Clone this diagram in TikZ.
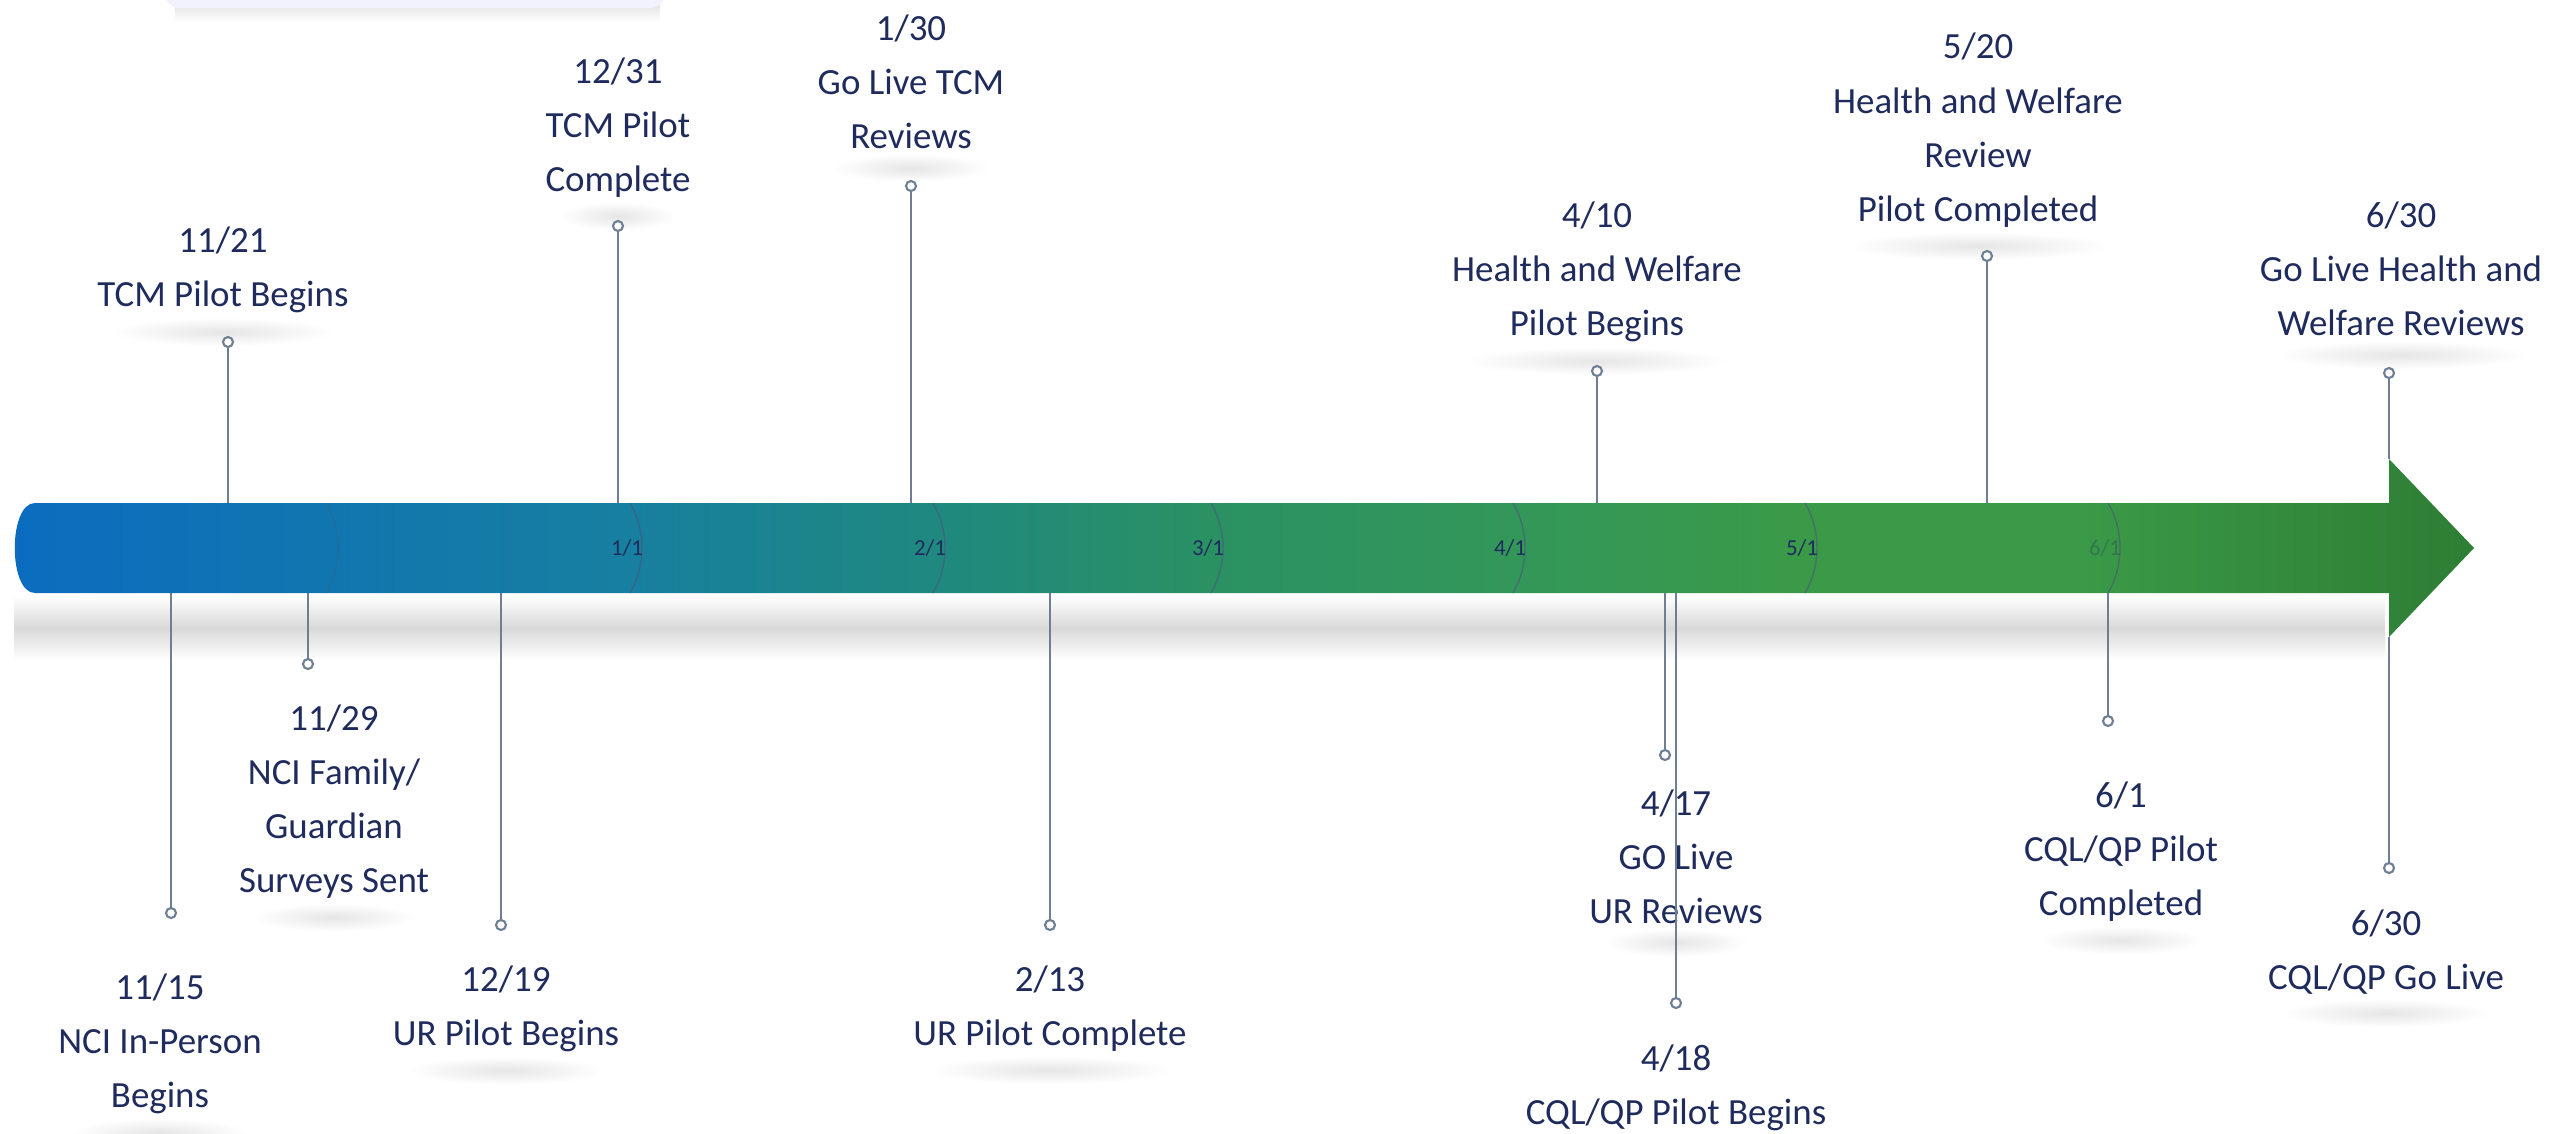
\documentclass[tikz,border=0pt]{standalone}
\usepackage{fontspec}
\setmainfont{Carlito}
\usetikzlibrary{positioning,backgrounds}
\definecolor{navyT}{HTML}{1F2B5C}
\definecolor{leadG}{HTML}{6E7F94}
\definecolor{bandA}{HTML}{0B6CC0}
\definecolor{bandB}{HTML}{177FA0}
\definecolor{bandC}{HTML}{1F8880}
\definecolor{bandD}{HTML}{2A9163}
\definecolor{bandE}{HTML}{33975A}
\definecolor{bandF}{HTML}{3A9A48}
\definecolor{bandG}{HTML}{2E7D34}
\pgfdeclarehorizontalshading{bandshade}{100bp}{%
  color(0bp)=(bandA); color(25bp)=(bandA); color(37.5bp)=(bandB);
  color(43.6bp)=(bandC); color(49.3bp)=(bandD); color(55.4bp)=(bandE);
  color(61.3bp)=(bandF); color(67bp)=(bandF); color(75bp)=(bandG); color(100bp)=(bandG)}
\tikzset{
  evt/.style={align=center, font=\fontsize{10.5}{15.4}\selectfont, text=navyT, inner sep=0pt},
  lead/.style={draw=leadG, line width=0.6pt},
  pinmark/.style={circle, draw=leadG, fill=white, line width=0.6pt, minimum size=1mm, inner sep=0pt},
  month/.style={font=\fontsize{6.5}{7}\selectfont, text=navyT, inner sep=0pt},
  monthline/.style={draw=navyT!80, line width=0.4pt, opacity=0.6},
  smudge/.style={inner color=gray!20, outer color=white},
}

\begin{document}
\begin{tikzpicture}[x=0.1mm, y=-0.1mm, node distance=2.2mm]
  \useasboundingbox (0,0) rectangle (2552,1133);
  \shade[top color=gray!22, bottom color=white] (175,4) rectangle (660,22);
  \fill[blue!5, rounded corners=4pt] (165,-40) rectangle (665,8);
  \shade[top color=white, bottom color=white, middle color=gray!30] (14,596) rectangle (2385,660);
  \shade[shading=bandshade] (35,503) -- (2389,503) -- (2389,459) -- (2474,548) -- (2389,637)
    -- (2389,593) -- (35,593) .. controls (8,593) and (8,503) .. (35,503) -- cycle;
  \coordinate (top) at (0,503);
  \coordinate (bot) at (0,593);
  \coordinate (headtop) at (2389,459);
  \coordinate (headbot) at (2389,637);

  \draw[monthline, opacity=0.3] (326,503) .. controls (342,530) and (342,566) .. (326,593);
  \foreach \mx/\mt/\mo [count=\i] in {630/{1/1}/1, 933/{2/1}/1, 1211/{3/1}/1, 1513/{4/1}/1, 1805/{5/1}/1, 2108/{6/1}/0.3}{
    \draw[monthline] (\mx,503) .. controls (\mx+16,530) and (\mx+16,566) .. (\mx,593);
    \node[month, text opacity=\mo] (m\i) at (\mx-3,548) {\mt};
  }

  \node[pinmark] (p1) at (228,342) {};
  \node[pinmark] (p2) at (618,226) {};
  \node[pinmark] (p3) at (911,186) {};
  \node[pinmark] (p4) at (1597,371) {};
  \node[pinmark] (p5) at (1987,256) {};
  \node[pinmark] (p6) at (2389,373) {};
  \node[pinmark] (p7) at (171,913) {};
  \node[pinmark] (p8) at (308,664) {};
  \node[pinmark] (p9) at (501,925) {};
  \node[pinmark] (p10) at (1050,925) {};
  \node[pinmark] (p11) at (1665,755) {};
  \node[pinmark] (p12) at (1676,1003) {};
  \node[pinmark] (p13) at (2108,721) {};
  \node[pinmark] (p14) at (2389,868) {};

  \node[evt, above=of p1, xshift=-0.5mm] (l1) {11/21\\TCM Pilot Begins};
  \node[evt, above=of p2] (l2) {12/31\\TCM Pilot\\Complete};
  \node[evt, above=3mm of p3] (l3) {1/30\\Go Live TCM\\Reviews};
  \node[evt, above=of p4] (l4) {4/10\\Health and Welfare\\Pilot Begins};
  \node[evt, above=of p5, xshift=-0.9mm] (l5) {5/20\\Health and Welfare\\Review\\Pilot Completed};
  \node[evt, above=3mm of p6, xshift=1.2mm] (l6) {6/30\\Go Live Health and\\Welfare Reviews};
  \node[evt, below=5.4mm of p7, xshift=-1.1mm] (l7) {11/15\\NCI In-Person\\Begins};
  \node[evt, below=3.4mm of p8, xshift=2.6mm] (l8) {11/29\\NCI Family/\\Guardian\\Surveys Sent};
  \node[evt, below=3.4mm of p9, xshift=0.5mm] (l9) {12/19\\UR Pilot Begins};
  \node[evt, below=3.4mm of p10] (l10) {2/13\\UR Pilot Complete};
  \node[evt, below=2.8mm of p11, xshift=1.1mm] (l11) {4/17\\GO Live\\UR Reviews};
  \node[evt, below=3.5mm of p12] (l12) {4/18\\CQL/QP Pilot Begins};
  \node[evt, below=5.4mm of p13, xshift=1.3mm] (l13) {6/1\\CQL/QP Pilot\\Completed};
  \node[evt, below=3.5mm of p14, xshift=-0.3mm] (l14) {6/30\\CQL/QP Go Live};

  \begin{scope}[on background layer]
    \foreach \i in {1,...,14}
      \shade[smudge] ([shift={(15,4)}]l\i.south west) rectangle ([shift={(-15,32)}]l\i.south east);
  \end{scope}

  \draw[lead] (p1.south) -- (p1.south |- top);
  \draw[lead] (p2.south) -- (p2.south |- top);
  \draw[lead] (p3.south) -- (p3.south |- top);
  \draw[lead] (p4.south) -- (p4.south |- top);
  \draw[lead] (p5.south) -- (p5.south |- top);
  \draw[lead] (p6.south) -- (headtop);
  \draw[lead] (p7.north) -- (p7.north |- bot);
  \draw[lead] (p8.north) -- (p8.north |- bot);
  \draw[lead] (p9.north) -- (p9.north |- bot);
  \draw[lead] (p10.north) -- (p10.north |- bot);
  \draw[lead] (p11.north) -- (p11.north |- bot);
  \draw[lead] (p12.north) -- (p12.north |- bot);
  \draw[lead] (p13.north) -- (p13.north |- bot);
  \draw[lead] (p14.north) -- (headbot);
\end{tikzpicture}
\end{document}
